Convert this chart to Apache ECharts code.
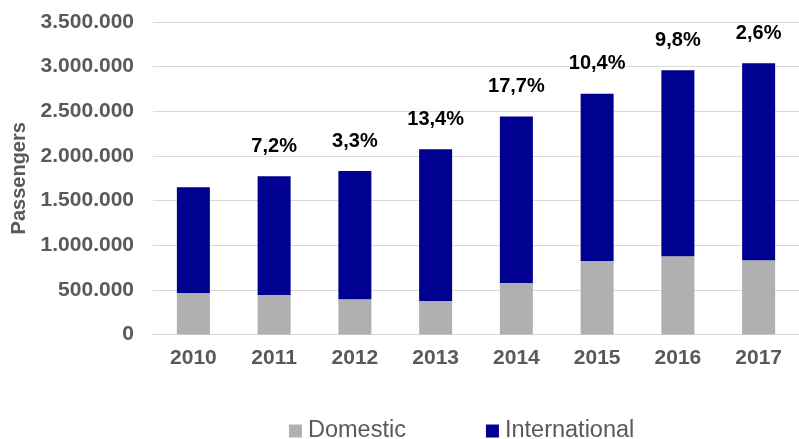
<!DOCTYPE html>
<html>
    <head>
        <meta charset="utf-8">
        <script src="https://cdn.jsdelivr.net/npm/echarts@6/dist/echarts.min.js"></script>
        <style>
            html, body { margin: 0; padding: 0; background: #fff; }
        </style>
    </head>
    <body>
        <div id="main" style="width: 799px;height:439px;"></div>
        <script type="text/javascript">
            // data
            var years = ['2010', '2011', '2012', '2013', '2014', '2015', '2016', '2017'];
            var domestic = [465000, 443000, 395000, 376000, 577000, 824000, 877000, 832000];
            var international = [1185000, 1329000, 1436000, 1700000, 1866000, 1873000, 2084000, 2206000];
            var growth = ['', '7,2%', '3,3%', '13,4%', '17,7%', '10,4%', '9,8%', '2,6%'];

            var font = '"Liberation Sans", Arial, sans-serif';

            function fmt(v) {
                return String(v).replace(/\B(?=(\d{3})+(?!\d))/g, '.');
            }

            var myChart = echarts.init(document.getElementById('main'));

            var option = {
                animation: false,
                textStyle: { fontFamily: font },
                grid: { left: 153, top: 22, width: 650, height: 312.5 },
                legend: {
                    top: 419,
                    left: 289,
                    padding: 0,
                    itemWidth: 13,
                    itemHeight: 13,
                    itemGap: 80,
                    icon: 'rect',
                    textStyle: { fontFamily: font, fontSize: 23.5, color: '#595959', padding: [0, 0, 0, 1] },
                    data: ['Domestic', 'International']
                },
                xAxis: {
                    type: 'category',
                    data: years,
                    axisTick: { show: false },
                    axisLine: { lineStyle: { color: '#d9d9d9', width: 1 } },
                    axisLabel: { margin: 13, fontSize: 21, fontWeight: 'bold', color: '#595959', fontFamily: font }
                },
                yAxis: {
                    type: 'value',
                    min: 0,
                    max: 3500000,
                    interval: 500000,
                    name: 'Passengers',
                    nameLocation: 'middle',
                    nameGap: 122,
                    nameTextStyle: { fontSize: 20, fontWeight: 'bold', color: '#595959', fontFamily: font },
                    axisLine: { show: false },
                    axisTick: { show: false },
                    splitLine: { lineStyle: { color: '#d9d9d9', width: 1 } },
                    axisLabel: {
                        margin: 19,
                        fontSize: 21,
                        fontWeight: 'bold',
                        color: '#595959',
                        fontFamily: font,
                        formatter: fmt
                    }
                },
                series: [
                    {
                        name: 'Domestic',
                        type: 'bar',
                        stack: 'pax',
                        barWidth: 33,
                        itemStyle: { color: '#b0b0b0' },
                        data: domestic
                    },
                    {
                        name: 'International',
                        type: 'bar',
                        stack: 'pax',
                        barWidth: 33,
                        itemStyle: { color: '#000091' },
                        label: {
                            show: true,
                            position: 'top',
                            distance: 20,
                            fontSize: 20,
                            fontWeight: 'bold',
                            color: '#000',
                            fontFamily: font,
                            formatter: function (p) { return growth[p.dataIndex]; }
                        },
                        data: international
                    }
                ]
            };

            myChart.setOption(option);
        </script>
    </body>
</html>
